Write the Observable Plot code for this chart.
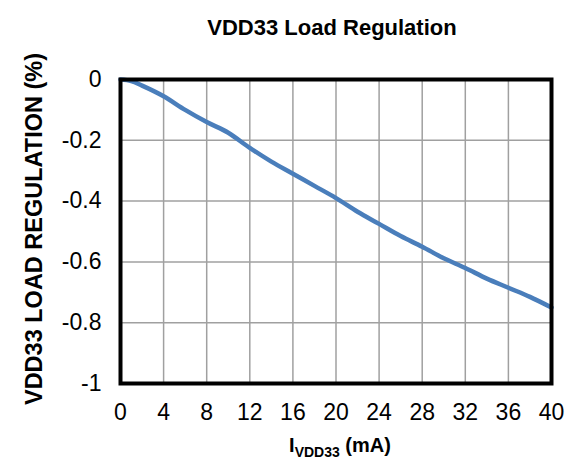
<!DOCTYPE html>
<html><head><meta charset="utf-8">
<script src="https://cdn.jsdelivr.net/npm/d3@7"></script>
<script src="https://cdn.jsdelivr.net/npm/@observablehq/plot@0.6"></script>
<style>
body{margin:0;background:#fff;font-family:"Liberation Sans",Arial,sans-serif;}
g[aria-label$="tick label"]{font-size:23px;}
</style>
</head><body><div id="chart"></div>
<script>
const currentMA = [0, 1, 2, 4, 6, 8, 10, 12, 14, 16, 18, 20, 22, 24, 26, 28, 30, 32, 34, 36, 38, 40];
const regulationPct = [0, -0.005, -0.02, -0.055, -0.1, -0.14, -0.175, -0.225, -0.27, -0.31, -0.35, -0.39, -0.435, -0.475, -0.515, -0.55, -0.588, -0.62, -0.655, -0.685, -0.715, -0.75];
const xTicks = [0, 4, 8, 12, 16, 20, 24, 28, 32, 36, 40];
const yTicks = [0, -0.2, -0.4, -0.6, -0.8, -1];
const title = "VDD33 Load Regulation";
const yLabel = "VDD33 LOAD REGULATION (%)";

const data = currentMA.map((x, i) => ({x, y: regulationPct[i]}));

const plot = Plot.plot({
  width: 566, height: 462,
  marginLeft: 120, marginRight: 15, marginTop: 79, marginBottom: 79,
  style: {fontFamily: '"Liberation Sans", Arial, sans-serif', fontSize: "22px", color: "#000", background: "#fff"},
  x: {domain: [0, 40], ticks: xTicks, label: null},
  y: {domain: [-1, 0], ticks: yTicks, label: null},
  marks: [
    Plot.gridX(xTicks.slice(1, -1), {stroke: "#a0a0a0", strokeOpacity: 1, strokeWidth: 1.5}),
    Plot.gridY(yTicks.slice(1, -1), {stroke: "#a0a0a0", strokeOpacity: 1, strokeWidth: 1.5}),
    Plot.axisX(xTicks, {tickSize: 0, tickPadding: 20, fontSize: 22, tickFormat: d => String(d)}),
    Plot.axisY(yTicks, {tickSize: 0, tickPadding: 19, fontSize: 22, tickFormat: d => String(d)}),
    Plot.line(data, {x: "x", y: "y", stroke: "#4a7ebb", strokeWidth: 4.5, curve: "monotone-x"}),
    Plot.frame({stroke: "#000", strokeWidth: 4})
  ]
});

const svg = d3.select(plot);
svg.append("text").attr("x", 332).attr("y", 35).attr("text-anchor", "middle")
  .attr("font-size", 22).attr("font-weight", "bold").attr("fill", "#000").text(title);
svg.append("text").attr("transform", "translate(42,229) rotate(-90)").attr("text-anchor", "middle")
  .attr("font-size", 23.5).attr("font-weight", "bold").attr("fill", "#000").text(yLabel);
const xl = svg.append("text").attr("x", 340).attr("y", 452).attr("text-anchor", "middle")
  .attr("font-size", 20).attr("font-weight", "bold").attr("fill", "#000");
xl.append("tspan").text("I");
xl.append("tspan").attr("font-size", 14).attr("dy", 5).text("VDD33");
xl.append("tspan").attr("dy", -5).text(" (mA)");

document.getElementById("chart").appendChild(plot);
</script></body></html>
